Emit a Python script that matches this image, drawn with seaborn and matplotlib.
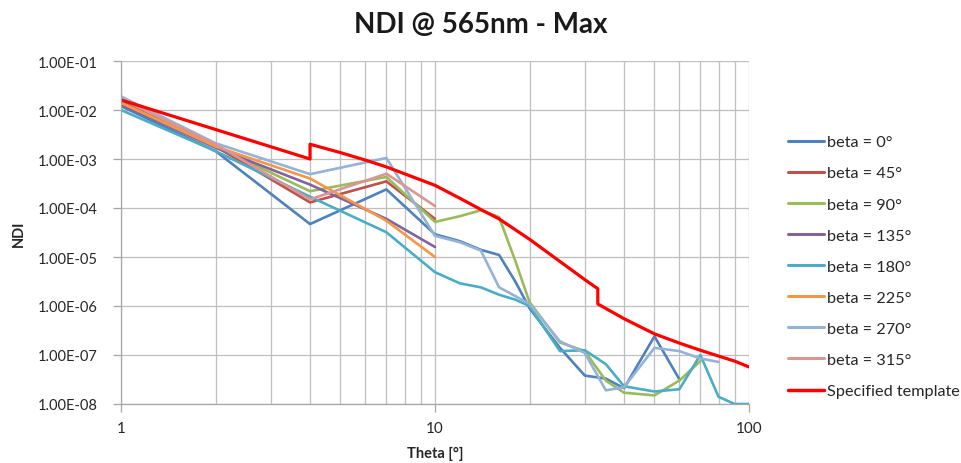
import numpy as np
import pandas as pd
import matplotlib
matplotlib.use("Agg")
import matplotlib.pyplot as plt
from matplotlib.ticker import LogLocator, FuncFormatter, NullFormatter
import seaborn as sns

# ---------------- data ----------------
x_b0 = [1, 2, 4, 7, 10, 12, 14, 16, 18, 20, 25, 30, 35, 40, 50, 60]
y_b0 = [1.2e-2, 1.45e-3, 4.7e-5, 2.4e-4, 2.9e-5, 2.1e-5, 1.4e-5, 1.1e-5, 3.2e-6, 9e-7,
        1.4e-7, 3.8e-8, 3.3e-8, 2.1e-8, 2.4e-7, 3.2e-8]

x_b45 = [1, 2, 4, 7, 10]
y_b45 = [1.5e-2, 1.8e-3, 1.3e-4, 3.5e-4, 6e-5]

x_b90 = [1, 2, 4, 7, 10, 12, 14, 16, 18, 20, 25, 30, 35, 40, 50, 60, 70]
y_b90 = [1.4e-2, 1.8e-3, 2.2e-4, 4.3e-4, 5.2e-5, 6.8e-5, 9e-5, 6.5e-5, 8.5e-6, 1.2e-6,
         1.8e-7, 1.2e-7, 3e-8, 1.7e-8, 1.5e-8, 3e-8, 7.5e-8]

x_b135 = [1, 2, 4, 7, 10]
y_b135 = [1.3e-2, 1.7e-3, 3e-4, 6e-5, 1.6e-5]

x_b180 = [1, 2, 4, 7, 10, 12, 14, 16, 18, 20, 25, 30, 35, 40, 50, 60, 70, 80, 90, 100]
y_b180 = [1.0e-2, 1.45e-3, 1.7e-4, 3.2e-5, 4.9e-6, 2.9e-6, 2.4e-6, 1.7e-6, 1.35e-6, 1.0e-6,
          1.2e-7, 1.25e-7, 6.5e-8, 2.3e-8, 1.8e-8, 2e-8, 1.0e-7, 1.4e-8, 1.0e-8, 1.0e-8]

x_b225 = [1, 2, 4, 7, 10]
y_b225 = [1.4e-2, 1.8e-3, 4e-4, 5.5e-5, 1e-5]

x_b270 = [1, 2, 4, 7, 10, 12, 14, 16, 18, 20, 25, 30, 35, 40, 50, 60, 70, 80]
y_b270 = [1.9e-2, 2.1e-3, 4.9e-4, 1.05e-3, 2.7e-5, 2.0e-5, 1.35e-5, 2.4e-6, 1.6e-6, 1.1e-6,
          1.9e-7, 1.1e-7, 1.9e-8, 2.2e-8, 1.4e-7, 1.2e-7, 8.5e-8, 7.2e-8]

x_b315 = [1, 2, 4, 7, 10]
y_b315 = [1.7e-2, 2.0e-3, 1.5e-4, 5e-4, 1.1e-4]

x_tpl = [1, 2, 4, 4, 5, 6, 7, 10, 12, 14, 16, 20, 25, 30, 33, 33, 40, 50, 60, 70, 80, 90, 100]
y_tpl = [1.6e-2, 4e-3, 1.0e-3, 2.0e-3, 1.35e-3, 9.5e-4, 6.9e-4, 2.9e-4, 1.58e-4, 9.3e-5, 6e-5,
         2.3e-5, 8.1e-6, 3.45e-6, 2.25e-6, 1.1e-6, 5.5e-7, 2.7e-7, 1.75e-7, 1.25e-7, 9.5e-8,
         7.5e-8, 5.7e-8]

labels = ["beta = 0°", "beta = 45°", "beta = 90°", "beta = 135°", "beta = 180°",
          "beta = 225°", "beta = 270°", "beta = 315°"]
colors = ["#4F81BD", "#C0504D", "#9BBB59", "#8064A2", "#4BACC6", "#F79646", "#95B3D7", "#D99694"]
tpl_label = "Specified template"
tpl_color = "#FF0000"

xs = [x_b0, x_b45, x_b90, x_b135, x_b180, x_b225, x_b270, x_b315]
ys = [y_b0, y_b45, y_b90, y_b135, y_b180, y_b225, y_b270, y_b315]

frames = []
for lab, xv, yv in zip(labels, xs, ys):
    frames.append(pd.DataFrame({"theta": xv, "ndi": yv, "series": lab}))
df = pd.concat(frames, ignore_index=True)
df_tpl = pd.DataFrame({"theta": x_tpl, "ndi": y_tpl, "series": tpl_label})

# ---------------- plot ----------------
sns.set_theme(style="white")
plt.rcParams["font.family"] = ["Lato", "DejaVu Sans"]

fig = plt.figure(figsize=(9.61, 4.64), dpi=100)
ax = fig.add_axes([121 / 961, 1 - 405 / 464, (749 - 121) / 961, (405 - 62) / 464])

sns.lineplot(data=df, x="theta", y="ndi", hue="series", hue_order=labels,
             palette=dict(zip(labels, colors)), estimator=None, sort=False,
             linewidth=1.9, ax=ax, legend=False)
sns.lineplot(data=df_tpl, x="theta", y="ndi", color=tpl_color, estimator=None, sort=False,
             linewidth=2.3, ax=ax, legend=False)

ax.set_xscale("log")
ax.set_yscale("log")
ax.set_xlim(1, 100)
ax.set_ylim(1e-8, 1e-1)

ax.xaxis.set_major_locator(LogLocator(base=10, numticks=10))
ax.xaxis.set_minor_locator(LogLocator(base=10, subs=np.arange(2, 10), numticks=20))
ax.xaxis.set_major_formatter(FuncFormatter(lambda v, p: f"{int(round(v))}"))
ax.xaxis.set_minor_formatter(NullFormatter())
ax.yaxis.set_major_locator(LogLocator(base=10, numticks=12))
ax.yaxis.set_minor_locator(LogLocator(base=10, subs=[], numticks=12))
ax.yaxis.set_major_formatter(FuncFormatter(lambda v, p: f"{v:.2E}"))

grid_c = "#BFBFBF"
ax.grid(True, which="major", axis="both", color=grid_c, linewidth=0.9)
ax.grid(True, which="minor", axis="x", color=grid_c, linewidth=0.9)
ax.set_axisbelow(True)
for s in ["top", "right"]:
    ax.spines[s].set_visible(False)
for s in ["left", "bottom"]:
    ax.spines[s].set_color("#A6A6A6")
    ax.spines[s].set_linewidth(0.9)
ax.tick_params(axis="y", which="major", length=6, width=0.9, color="#A6A6A6",
               labelsize=10.5, labelcolor="#262626", left=True, pad=11)
ax.tick_params(axis="x", which="major", length=6, width=0.9, color="#A6A6A6",
               labelsize=11, labelcolor="#262626", bottom=True, pad=6)
ax.tick_params(axis="x", which="minor", length=0)

ax.set_xlabel("Theta [°]", fontsize=10.5, fontweight="bold", color="#262626", labelpad=8)
ax.set_ylabel("NDI", fontsize=10.5, fontweight="bold", color="#262626", labelpad=8)
fig.suptitle("NDI @ 565nm - Max", x=0.5, y=0.975, fontsize=20, fontweight="bold", color="#1a1a1a")

handles = [plt.Line2D([], [], color=c, linewidth=2.2) for c in colors]
handles.append(plt.Line2D([], [], color=tpl_color, linewidth=2.5))
fig.legend(handles, labels + [tpl_label], loc="upper left",
           bbox_to_anchor=(788 / 961, 1 - 136 / 464), frameon=False,
           fontsize=11.7, handlelength=2.2, handletextpad=0.2, labelspacing=1.03,
           borderaxespad=0, borderpad=0)

fig.savefig("out.png", dpi=100)
